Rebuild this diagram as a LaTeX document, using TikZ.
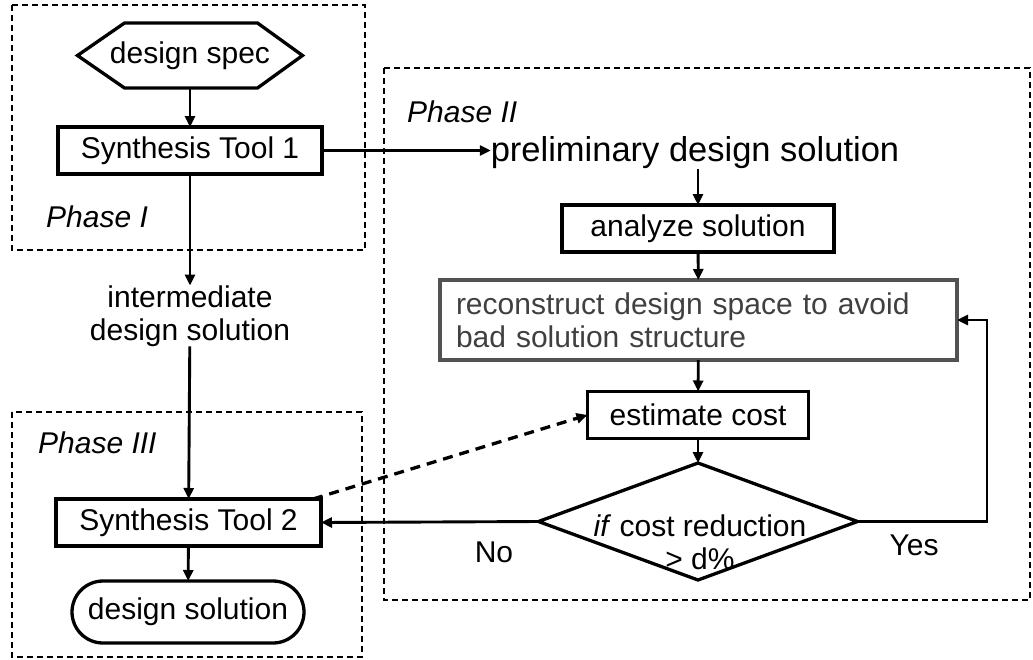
\documentclass[tikz,border=0pt]{standalone}
\usepackage{fontspec}
\setmainfont{Liberation Sans}
\usetikzlibrary{arrows.meta,shapes.geometric}
\begin{document}
\begin{tikzpicture}[x=1pt,y=-1pt,
  font=\fontsize{30}{33}\selectfont,
  phase/.style={draw, dash pattern=on 6pt off 4pt, line width=1.8pt},
  box/.style={draw, line width=3.3pt, rectangle, inner sep=0pt, outer sep=0pt},
  flow/.style={line width=2.9pt, -{Triangle[length=11pt,width=10pt]}},
  plabel/.style={font=\fontsize{30}{33}\selectfont\itshape, anchor=west, inner sep=0pt},
  txt/.style={inner sep=0pt, outer sep=0pt, align=center}]
\useasboundingbox (0,0) rectangle (1033,659);

% phase frames
\draw[phase] (12,5) rectangle (365,250);
\draw[phase] (384,68) rectangle (1030,600);
\draw[phase] (12,412) rectangle (362,657);

% Phase I
\node[txt, minimum width=225, minimum height=65] (spec) at (190,55.5) {design spec};
\draw[line width=3.3pt, line join=miter] (spec.west) -- ([xshift=47pt]spec.north west)
  -- ([xshift=-45pt]spec.north east) -- (spec.east) -- ([xshift=-45pt]spec.south east)
  -- ([xshift=47pt]spec.south west) -- cycle;
\node[box, minimum width=264, minimum height=47] (st1) at (190,150.5) {Synthesis Tool 1};
\node[plabel] (p1) at (46,217) {Phase I};

\node[txt] (inter) at (190,316) {intermediate\\design solution};

% Phase II
\node[plabel] (p2) at (407,112) {Phase II};
\node[txt, font=\fontsize{34.5}{38}\selectfont] (prelim) at (695,153) {preliminary design solution};
\node[box, minimum width=272, minimum height=47] (ana) at (698,228.5) {analyze solution};
\node[box, draw=black!68, text=black!75, minimum width=517, minimum height=80,
  text width=485pt, inner xsep=16pt, align=left] (recon) at (698.5,320)
  {reconstruct design space to avoid\\bad solution structure};
\node[box, minimum width=221, minimum height=47] (est) at (698,415) {estimate cost};
\node[draw, diamond, line width=3.3pt, minimum width=319, minimum height=117,
  inner sep=0pt, outer sep=0pt] (dec) at (698,521.5) {};
\node[txt] (dectext) at (700,542) {\textit{if} cost reduction\\> d\%};
\node[txt] (no) at (494,552) {No};
\node[txt] (yes) at (914,545) {Yes};

% Phase III
\node[plabel] (p3) at (38,443) {Phase III};
\node[box, minimum width=265, minimum height=47] (st2) at (188.5,522.5) {Synthesis Tool 2};
\node[box, rounded corners=31pt, minimum width=232, minimum height=62] (sol) at (188,612) {design solution};

% connectors
\draw[flow] (spec) -- (st1);
\draw[flow] (st1) -- (inter);
\draw[flow] (inter) -- (st2);
\draw[flow] (st2) -- (sol);
\draw[flow] (st1.east) -- (st1.east -| prelim.west);
\draw[flow] (ana.north |- prelim.south) -- (ana.north);
\draw[flow] (ana) -- (recon);
\draw[flow] (recon) -- (est);
\draw[flow] (est) -- (dec);
\draw[flow] (dec.west) -- (st2.east);
\coordinate (fb) at (987,521.5);
\draw[flow] (dec.east) -- (fb) |- (recon.east);
\draw[flow, dash pattern=on 10pt off 7pt, line width=3.3pt] ([xshift=-8pt]st2.north east) -- (est.west);
\end{tikzpicture}
\end{document}
